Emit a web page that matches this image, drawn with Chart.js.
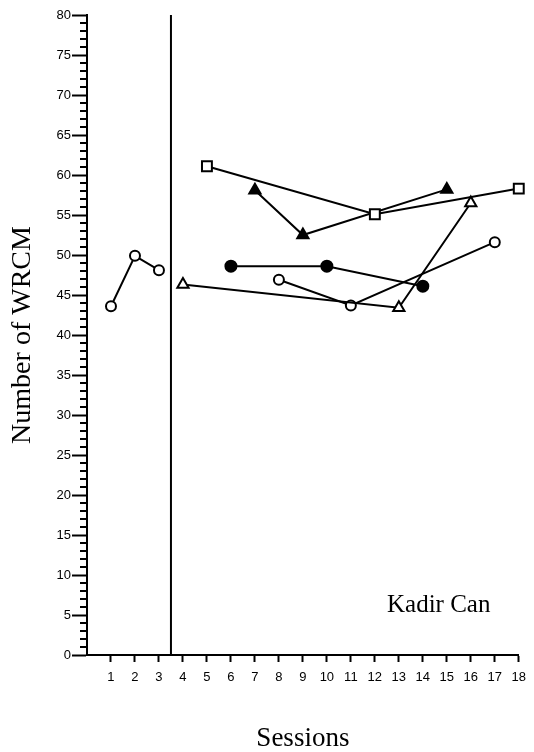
<!DOCTYPE html>
<html lang="en">
<head>
    <meta charset="UTF-8">
    <script src="https://cdn.jsdelivr.net/npm/chart.js@4.4.0/dist/chart.umd.min.js"></script>
    <title>Number of WRCM</title>
    <style>
        body { margin: 0; background: #fff; }
        #wrap { width: 534px; height: 752px; }
    </style>
</head>
<body>
    <div id="wrap"><canvas id="chart"></canvas></div>
    <script>
        // values
        const baseX = [1, 2, 3];
        const baseY = [43.6, 49.9, 48.1];
        const squareX = [5, 12, 18];
        const squareY = [61.1, 55.1, 58.3];
        const triFillX = [7, 9, 15];
        const triFillY = [58.1, 52.5, 58.2];
        const triOpenX = [4, 13, 16];
        const triOpenY = [46.3, 43.4, 56.5];
        const dotX = [6, 10, 14];
        const dotY = [48.6, 48.6, 46.1];
        const ringX = [8, 11, 17];
        const ringY = [46.9, 43.7, 51.6];
        const phaseLine = 3.5;
        const yTicks = [0, 5, 10, 15, 20, 25, 30, 35, 40, 45, 50, 55, 60, 65, 70, 75, 80];
        const xTicks = [1, 2, 3, 4, 5, 6, 7, 8, 9, 10, 11, 12, 13, 14, 15, 16, 17, 18];

        const pts = (xs, ys) => xs.map((x, i) => ({ x: x, y: ys[i] }));

        function series(xs, ys, style, r, filled) {
            return {
                data: pts(xs, ys),
                showLine: true,
                clip: false,
                borderColor: '#000',
                borderWidth: 2,
                pointStyle: style,
                pointRadius: r,
                pointHoverRadius: r,
                pointBorderWidth: 2,
                pointBorderColor: '#000',
                pointBackgroundColor: filled ? '#000' : '#fff'
            };
        }

        // short minor ticks on the y axis and the name label
        const extras = {
            id: 'extras',
            afterDraw(chart) {
                const ctx = chart.ctx;
                const y = chart.scales.y;
                ctx.save();
                ctx.strokeStyle = '#000';
                ctx.lineWidth = 2;
                for (let v = 0; v <= 80; v++) {
                    if (v % 5 === 0) continue;
                    const py = y.getPixelForValue(v);
                    ctx.beginPath();
                    ctx.moveTo(y.right - 7, py);
                    ctx.lineTo(y.right, py);
                    ctx.stroke();
                }
                ctx.fillStyle = '#000';
                ctx.font = '25px "Liberation Serif"';
                ctx.textBaseline = 'alphabetic';
                ctx.fillText('Kadir Can', 387, 612);
                ctx.restore();
            }
        };

        const ctx = document.getElementById('chart').getContext('2d');
        const myChart = new Chart(ctx, {
            type: 'scatter',
            data: {
                datasets: [
                    series(baseX, baseY, 'circle', 5, false),
                    series(squareX, squareY, 'rect', 7, false),
                    series(triFillX, triFillY, 'triangle', 6.5, true),
                    series(triOpenX, triOpenY, 'triangle', 6.5, false),
                    series(dotX, dotY, 'circle', 5.5, true),
                    series(ringX, ringY, 'circle', 5, false),
                    {
                        data: [{ x: phaseLine, y: 0 }, { x: phaseLine, y: 80 }],
                        showLine: true,
                        clip: false,
                        borderColor: '#000',
                        borderWidth: 2,
                        pointRadius: 0,
                        pointHoverRadius: 0
                    }
                ]
            },
            options: {
                responsive: true,
                maintainAspectRatio: false,
                animation: false,
                layout: { padding: { top: 15, right: 11, left: 0, bottom: 0 } },
                plugins: {
                    legend: { display: false },
                    tooltip: { enabled: false }
                },
                scales: {
                    x: {
                        type: 'linear',
                        min: 0,
                        max: 18,
                        border: { color: '#000', width: 2 },
                        grid: { drawOnChartArea: false, drawTicks: true, tickLength: 7, tickColor: '#000', tickWidth: 2 },
                        afterBuildTicks: s => { s.ticks = xTicks.map(v => ({ value: v })); },
                        afterFit: s => { s.height = 97; },
                        ticks: {
                            autoSkip: false,
                            maxRotation: 0,
                            padding: 8,
                            color: '#000',
                            font: { family: '"Liberation Sans"', size: 13 }
                        },
                        title: {
                            display: true,
                            text: 'Sessions',
                            color: '#000',
                            font: { family: '"Liberation Serif"', size: 27, lineHeight: 1 },
                            padding: { top: 0, bottom: 0 }
                        }
                    },
                    y: {
                        min: 0,
                        max: 80,
                        border: { color: '#000', width: 2 },
                        grid: { drawOnChartArea: false, drawTicks: true, tickLength: 15, tickColor: '#000', tickWidth: 2 },
                        afterBuildTicks: s => { s.ticks = yTicks.map(v => ({ value: v })); },
                        afterFit: s => { s.width = 87; },
                        ticks: {
                            padding: 1,
                            color: '#000',
                            font: { family: '"Liberation Sans"', size: 13 }
                        },
                        title: {
                            display: true,
                            text: 'Number of WRCM',
                            color: '#000',
                            font: { family: '"Liberation Serif"', size: 28 },
                            padding: { top: 6, bottom: 0 }
                        }
                    }
                }
            },
            plugins: [extras]
        });
    </script>
</body>
</html>
